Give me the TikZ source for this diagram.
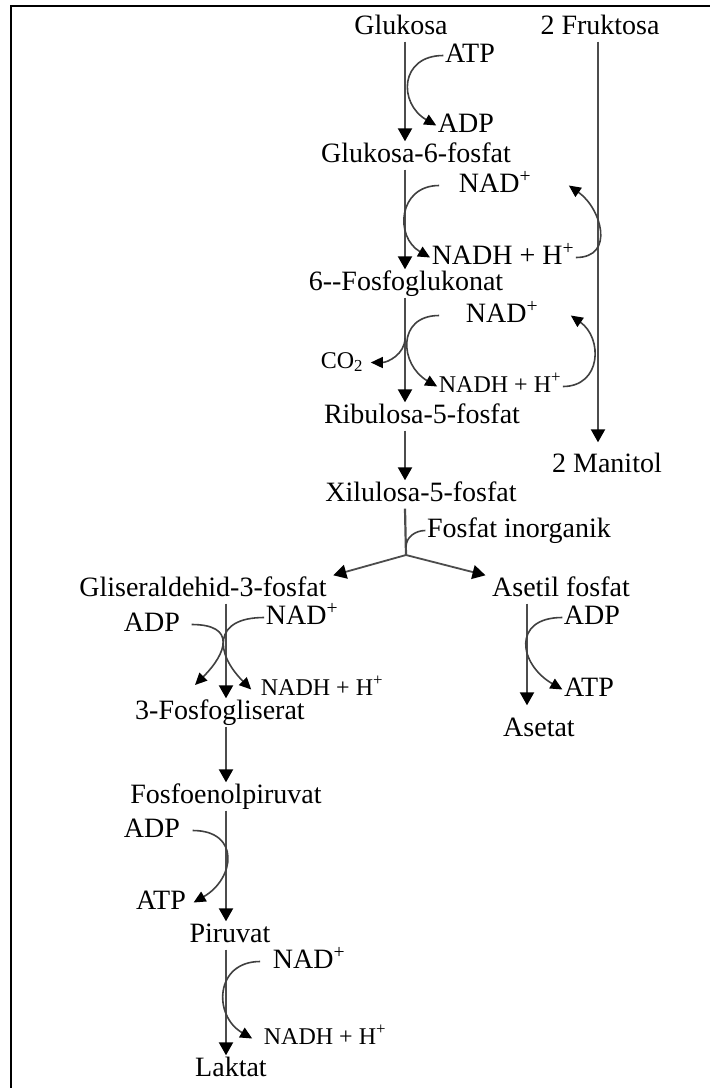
\documentclass[tikz,border=0pt]{standalone}
\usepackage{fontspec}
\setmainfont{Liberation Serif}
\usetikzlibrary{arrows.meta}

\begin{document}
\begin{tikzpicture}[x=1pt, y=1pt,
    %%[->,>=stealth',shorten >=1pt,auto,node distance=1.2cm,
    compound/.style={inner sep=1.5pt, text height=19pt, text depth=6pt, anchor=base,
      font=\fontsize{28}{30}\selectfont},
    small/.style={compound, text height=16pt, text depth=5pt, font=\fontsize{24}{26}\selectfont},
    flow/.style={draw=black!70, line width=2.2pt, -{Triangle[length=13pt,width=14pt,color=black]}},
    side/.style={draw=black!75, line width=1.6pt, -{Triangle[length=12pt,width=11pt,color=black]}}]

  \useasboundingbox (0,0) rectangle (710,-1088);
  \draw[line width=2.5pt] (11,-1088) -- (11,-6) -- (710,-6);

  \coordinate (ColA) at (405,0);
  \coordinate (ColB) at (598,0);
  \coordinate (ColC) at (226,0);
  \coordinate (ColD) at (527,0);

  % compounds
  \node[compound] (Glukosa) at (401,-34) {Glukosa};
  \node[compound] (Fruktosa) at (600,-34) {2 Fruktosa};
  \node[compound] (GSF) at (416,-162) {Glukosa-6-fosfat};
  \node[compound] (FGluk) at (406,-290) {6-{}-Fosfoglukonat};
  \node[compound] (Ribu) at (422,-423) {Ribulosa-5-fosfat};
  \node[compound] (Manitol) at (607,-472) {2 Manitol};
  \node[compound] (Xilu) at (421,-501) {Xilulosa-5-fosfat};
  \node[compound] (Pi) at (519,-537) {Fosfat inorganik};
  \node[compound] (GA) at (203,-596) {Gliseraldehid-3-fosfat};
  \node[compound] (Asetil) at (561,-596) {Asetil fosfat};
  \node[compound] (FGli) at (220,-719) {3-Fosfogliserat};
  \node[compound] (Asetat) at (539,-736) {Asetat};
  \node[compound] (PEP) at (226,-803) {Fosfoenolpiruvat};
  \node[compound] (Piruvat) at (230,-942) {Piruvat};
  \node[compound] (Laktat) at (231,-1076) {Laktat};

  % cofactors
  \node[compound] (ATPa) at (470,-62) {ATP};
  \node[compound] (ADPa) at (466,-132) {ADP};
  \node[compound] (NADa) at (495,-192) {NAD\textsuperscript{+}};
  \node[compound] (NADHa) at (503,-264) {NADH + H\textsuperscript{+}};
  \node[compound] (NADb) at (502,-322) {NAD\textsuperscript{+}};
  \node[small] (COdua) at (342,-368) {CO\textsubscript{2}};
  \node[small] (NADHb) at (500,-392) {NADH + H\textsuperscript{+}};
  \node[compound] (ADPc) at (152,-631) {ADP};
  \node[compound] (NADc) at (302,-624) {NAD\textsuperscript{+}};
  \node[small] (NADHc) at (322,-695) {NADH + H\textsuperscript{+}};
  \node[compound] (ADPf) at (592,-624) {ADP};
  \node[compound] (ATPf) at (589,-696) {ATP};
  \node[compound] (ADPd) at (152,-837) {ADP};
  \node[compound] (ATPd) at (161,-909) {ATP};
  \node[compound] (NADe) at (309,-968) {NAD\textsuperscript{+}};
  \node[small] (NADHe) at (325,-1044) {NADH + H\textsuperscript{+}};

  \coordinate (Split) at (406,-555);
  \coordinate (PiIn) at (406,-547);
  \coordinate (COout) at (405,-338);
  \coordinate (ATPc) at (195,-685);

  % main flow
  \draw[flow] (Glukosa.south -| ColA) -- (GSF.north -| ColA);
  \draw[flow] (GSF.south -| ColA) -- (FGluk.north -| ColA);
  \draw[flow] (FGluk.south -| ColA) -- (Ribu.north -| ColA);
  \draw[flow] (Ribu.south -| ColA) -- (Xilu.north -| ColA);
  \draw[flow, shorten >=9pt] (Fruktosa.south -| ColB) -- (Manitol.north -| ColB);
  \draw[draw=black!70, line width=2.2pt] (Xilu.south -| ColA) -- (Split);
  \draw[flow, line width=1.8pt] (Split) -- ([xshift=5pt]GA.north east);
  \draw[flow, line width=1.8pt] (Split) -- ([xshift=-5pt]Asetil.north west);
  \draw[flow] (GA.south -| ColC) -- (FGli.north -| ColC);
  \draw[flow] (FGli.south -| ColC) -- (PEP.north -| ColC);
  \draw[flow] (PEP.south -| ColC) -- (Piruvat.north -| ColC);
  \draw[flow] (Piruvat.south -| ColC) -- (Laktat.north -| ColC);
  \draw[flow, shorten >=10pt] (Asetil.south -| ColD) -- (Asetat.north -| ColD);

  % side reactions
  \draw[side] (ATPa.west) to[out=180, in=150, looseness=1.6] (ADPa.west);
  \draw[side] ([xshift=-18pt]NADa.west) to[out=180, in=150, looseness=1.45] (NADHa.west);
  \draw[side] (NADHa.east) to[out=0, in=-35, looseness=1.4] ([xshift=36pt]NADa.east);
  \draw[side] ([xshift=-25pt]NADb.west) to[out=180, in=150, looseness=1.55] (NADHb.west);
  \draw[side] (COout) to[out=-90, in=0] ([xshift=6pt]COdua.east);
  \draw[side] (NADHb.east) to[out=0, in=-35, looseness=1.4] ([xshift=31pt]NADb.east);
  \draw[draw=black!75, line width=1.6pt] (Pi.west) to[out=180, in=90] (PiIn);
  \draw[side] ([xshift=10pt]ADPc.east) to[out=0, in=45, looseness=1.9] (ATPc);
  \draw[side] (NADc.west) to[out=180, in=135, looseness=1.8] ([xshift=-8pt]NADHc.west);
  \draw[side] (ADPf.west) to[out=180, in=150, looseness=1.8] (ATPf.west);
  \draw[side] ([xshift=11pt]ADPd.east) to[out=0, in=30, looseness=1.7] ([xshift=6pt]ATPd.east);
  \draw[side] ([xshift=-11pt]NADe.west) to[out=180, in=150, looseness=1.5] ([xshift=-10pt]NADHe.west);

\end{tikzpicture}
\end{document}
